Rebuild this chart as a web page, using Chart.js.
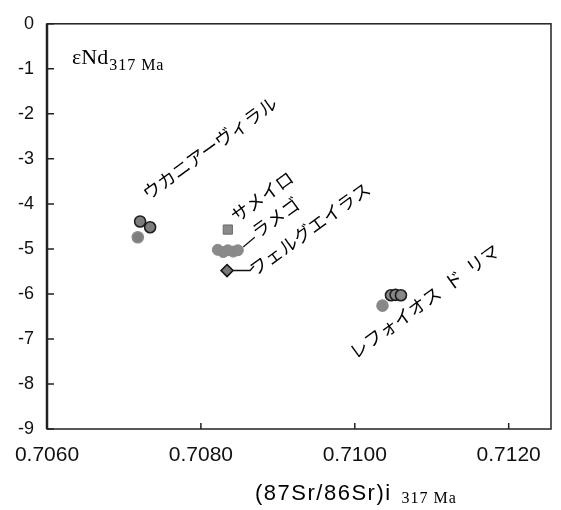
<!DOCTYPE html>
<html lang="ja">
  <head>
    <meta charset="UTF-8" />
    <title>εNd - Sr</title>
    <style>
      html, body { margin: 0; padding: 0; background: #fff; }
      #caja { width: 561px; height: 510px; }
    </style>
  </head>

  <body>
    <div id="caja"><canvas id="lienzo"></canvas></div>
    <script src="https://cdn.jsdelivr.net/npm/chart.js"></script>
    <script>
      // valores
      const ukaniaSr = [0.70721, 0.70734, 0.70718];
      const ukaniaNd = [-4.39, -4.52, -4.74];
      const samairoSr = [0.70835];
      const samairoNd = [-4.57];
      const lamegoSr = [0.70822, 0.70829, 0.70835, 0.70842, 0.70848];
      const lamegoNd = [-5.02, -5.07, -5.03, -5.06, -5.03];
      const felgueirasSr = [0.70834];
      const felgueirasNd = [-5.48];
      const refoiosSr = [0.71036, 0.71047, 0.71053, 0.7106];
      const refoiosNd = [-6.26, -6.03, -6.02, -6.03];
      const xTicks = [0.706, 0.708, 0.71, 0.712];
      const yTicks = [0, -1, -2, -3, -4, -5, -6, -7, -8, -9];

      const puntos = (xs, ys) => xs.map((v, i) => ({ x: v, y: ys[i] }));

      // etiquetas giradas, ancladas en unidades de datos
      const etiquetas = [
        { texto: "ウカニアーヴィラル", x: 0.70732, y: -3.93 },
        { texto: "サメイロ", x: 0.70847, y: -4.43 },
        { texto: "ラメゴ", x: 0.70874, y: -4.78 },
        { texto: "フェルグエイラス", x: 0.70871, y: -5.62 },
        { texto: "レフォイオス\u2002ド\u2002リマ", x: 0.71001, y: -7.46 },
      ];
      const guias = [
        [[0.70855, -4.96], [0.7087, -4.74]],
        [[0.70842, -5.48], [0.70864, -5.48], [0.70869, -5.38]],
      ];

      const marco = {
        id: "marco",
        afterDraw(chart) {
          const { ctx, chartArea: a, scales } = chart;
          const x = scales.x, y = scales.y;
          ctx.save();
          ctx.strokeStyle = "#222";
          ctx.lineWidth = 1.5;
          ctx.strokeRect(a.left, a.top, a.right - a.left, a.bottom - a.top);
          ctx.lineWidth = 2.5;
          ctx.beginPath();
          ctx.moveTo(a.left, a.top);
          ctx.lineTo(a.left, a.bottom);
          ctx.stroke();
          ctx.lineWidth = 1.5;
          ctx.beginPath();
          xTicks.forEach((v) => {
            const px = x.getPixelForValue(v);
            ctx.moveTo(px, a.bottom);
            ctx.lineTo(px, a.bottom - 6);
          });
          yTicks.forEach((v) => {
            const py = y.getPixelForValue(v);
            ctx.moveTo(a.left, py);
            ctx.lineTo(a.left + 7, py);
          });
          ctx.stroke();

          // guias
          ctx.lineWidth = 1.3;
          ctx.strokeStyle = "#111";
          guias.forEach((g) => {
            ctx.beginPath();
            g.forEach((p, i) => {
              const px = x.getPixelForValue(p[0]), py = y.getPixelForValue(p[1]);
              i ? ctx.lineTo(px, py) : ctx.moveTo(px, py);
            });
            ctx.stroke();
          });

          // etiquetas
          ctx.fillStyle = "#000";
          ctx.font = '18px "Noto Sans CJK JP"';
          ctx.textBaseline = "alphabetic";
          ctx.textAlign = "left";
          etiquetas.forEach((e) => {
            ctx.save();
            ctx.translate(x.getPixelForValue(e.x), y.getPixelForValue(e.y));
            ctx.rotate((-36 * Math.PI) / 180);
            ctx.fillText(e.texto, 0, 0);
            ctx.restore();
          });

          // eje y: εNd 317 Ma
          ctx.font = '22px "Liberation Serif"';
          ctx.fillText("εNd", a.left + 25, a.top + 40);
          const w = ctx.measureText("εNd").width;
          ctx.font = '16px "Liberation Serif"';
          ctx.letterSpacing = "1px";
          ctx.fillText("317 Ma", a.left + 25 + w + 1, a.top + 46);

          // eje x
          ctx.letterSpacing = "1.5px";
          ctx.font = '22px "Liberation Sans"';
          const t = "(87Sr/86Sr)i";
          const cx = 255;
          ctx.fillText(t, cx, 500);
          const wt = ctx.measureText(t).width;
          ctx.letterSpacing = "1px";
          ctx.font = '16px "Liberation Serif"';
          ctx.fillText("317 Ma", cx + wt + 10, 503);
          ctx.restore();
        },
      };

      const oscuro = "#1e1e1e";
      const gris = "#7d7d7d";

      const grafico = new Chart(document.querySelector("#lienzo"), {
        type: "scatter",
        data: {
          datasets: [
            {
              label: "ウカニアーヴィラル",
              data: puntos(ukaniaSr, ukaniaNd),
              backgroundColor: gris,
              borderColor: [oscuro, oscuro, "#8a8a8a"],
              borderWidth: 1.6,
              pointRadius: 5.5,
            },
            {
              label: "サメイロ",
              data: puntos(samairoSr, samairoNd),
              pointStyle: "rect",
              backgroundColor: "#8a8a8a",
              borderColor: "#6a6a6a",
              borderWidth: 1,
              pointRadius: 6.5,
            },
            {
              label: "ラメゴ",
              data: puntos(lamegoSr, lamegoNd),
              backgroundColor: "#8a8a8a",
              borderColor: "#8a8a8a",
              borderWidth: 1,
              pointRadius: 5.5,
            },
            {
              label: "フェルグエイラス",
              data: puntos(felgueirasSr, felgueirasNd),
              pointStyle: "rectRot",
              backgroundColor: "#777",
              borderColor: "#111",
              borderWidth: 1.6,
              pointRadius: 6,
            },
            {
              label: "レフォイオス ド リマ",
              data: puntos(refoiosSr, refoiosNd),
              backgroundColor: "#888",
              borderColor: ["#8a8a8a", oscuro, oscuro, oscuro],
              borderWidth: 1.6,
              pointRadius: 5.5,
            },
          ],
        },
        options: {
          responsive: true,
          maintainAspectRatio: false,
          animation: false,
          layout: { padding: { top: 15, right: 10, left: 0, bottom: 0 } },
          plugins: { legend: { display: false }, tooltip: { enabled: false } },
          scales: {
            x: {
              type: "linear",
              min: 0.706,
              max: 0.71255,
              afterBuildTicks: (s) => { s.ticks = xTicks.map((v) => ({ value: v })); },
              afterFit: (s) => { s.height = 81; },
              grid: { display: false, drawTicks: false },
              border: { display: false },
              ticks: {
                padding: 14,
                color: "#111",
                font: { family: "Liberation Sans", size: 21 },
                callback: (v) => Number(v).toFixed(4),
              },
            },
            y: {
              type: "linear",
              min: -9,
              max: 0,
              afterBuildTicks: (s) => { s.ticks = yTicks.map((v) => ({ value: v })); },
              afterFit: (s) => { s.width = 47; },
              grid: { display: false, drawTicks: false },
              border: { display: false },
              ticks: {
                padding: 13,
                color: "#111",
                font: { family: "Liberation Sans", size: 18 },
                callback: (v) => String(v),
              },
            },
          },
        },
        plugins: [marco],
      });
    </script>
  </body>
</html>
